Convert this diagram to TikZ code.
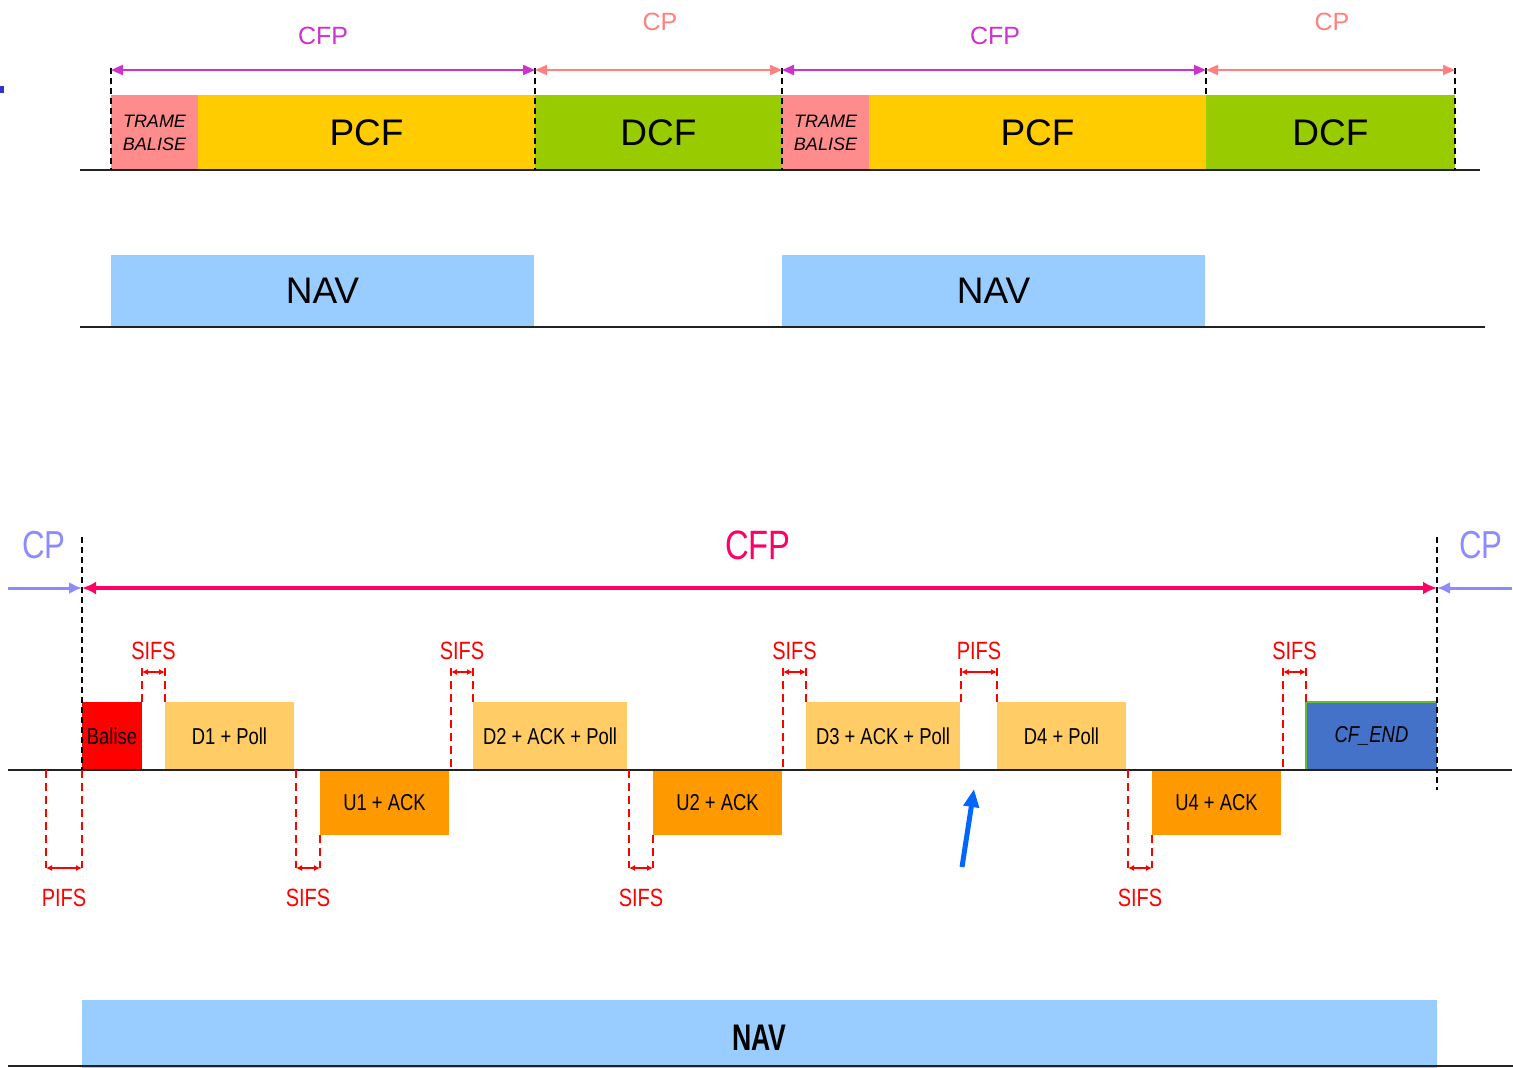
\documentclass[tikz,border=0pt]{standalone}
\usepackage{fontspec}
\setmainfont{Liberation Sans}
\newfontfamily\narrowsf[FakeStretch=0.8]{Liberation Sans}
\newfontfamily\narrowersf[FakeStretch=0.72]{Liberation Sans}
\usetikzlibrary{arrows.meta}

\definecolor{cfpmag}{HTML}{CC33CC}
\definecolor{cpsalmon}{HTML}{FF8080}
\definecolor{trame}{HTML}{FF8C8C}
\definecolor{pcfyellow}{HTML}{FFCC00}
\definecolor{dcfgreen}{HTML}{99CC00}
\definecolor{navblue}{HTML}{99CCFF}
\definecolor{cfpred}{HTML}{FF0066}
\definecolor{cpblue}{HTML}{8C8CFF}
\definecolor{downbox}{HTML}{FFCC66}
\definecolor{upbox}{HTML}{FF9900}
\definecolor{cfend}{HTML}{4472C8}
\definecolor{cfendedge}{HTML}{66BB33}
\definecolor{markblue}{HTML}{3333CC}
\definecolor{pointer}{HTML}{0066FF}
\definecolor{axis}{HTML}{222222}

\begin{document}
\begin{tikzpicture}[x=1pt,y=-1pt,
  slot/.style={inner sep=0pt, outer sep=0pt, anchor=north west, text=black, draw=none},
  bigtxt/.style={font=\fontsize{37}{40}\selectfont},
  frametxt/.style={font=\narrowsf\fontsize{23}{26}\selectfont},
  axisline/.style={draw=axis, line width=2pt},
  divider/.style={draw=black, line width=1.5pt, dash pattern=on 6pt off 4pt},
  gapline/.style={draw=red, line width=1.5pt, dash pattern=on 8pt off 5pt},
  gaparrow/.style={draw=red, line width=1.5pt, {Latex[length=6pt,width=6pt]}-{Latex[length=6pt,width=6pt]}},
  gaptxt/.style={text=red, font=\narrowsf\fontsize{25}{28}\selectfont},
  toparrow/.style={line width=2pt, {Triangle[length=12pt,width=10pt]}-{Triangle[length=12pt,width=10pt]}},
  toptxt/.style={font=\fontsize{25}{28}\selectfont}
]
\useasboundingbox (0,0) rectangle (1513,1068);

% small mark at the left edge
\fill[markblue] (0,86) rectangle (4,93);

% ---------- upper timeline: superframes ----------
\node[slot, fill=trame, minimum width=87pt, minimum height=75pt, align=center,
      font=\fontsize{18}{23}\selectfont\itshape] (tb1) at (111,95) {TRAME\\BALISE};
\node[slot, fill=pcfyellow, minimum width=337pt, minimum height=75pt, bigtxt] (pcf1) at (198,95) {PCF};
\node[slot, fill=dcfgreen, minimum width=247pt, minimum height=75pt, bigtxt] (dcf1) at (535,95) {DCF};
\node[slot, fill=trame, minimum width=87pt, minimum height=75pt, align=center,
      font=\fontsize{18}{23}\selectfont\itshape] (tb2) at (782,95) {TRAME\\BALISE};
\node[slot, fill=pcfyellow, minimum width=337pt, minimum height=75pt, bigtxt] (pcf2) at (869,95) {PCF};
\node[slot, fill=dcfgreen, minimum width=249pt, minimum height=75pt, bigtxt] (dcf2) at (1206,95) {DCF};

\coordinate (ax1a) at (80,170);
\coordinate (ax1b) at (1480,170);
\draw[axisline] (ax1a) -- (ax1b);

% period boundaries
\coordinate (p0t) at (111,68);  \coordinate (p0b) at (111,170);
\coordinate (p1t) at (535,68);  \coordinate (p1b) at (535,170);
\coordinate (p2t) at (782,68);  \coordinate (p2b) at (782,170);
\coordinate (p3t) at (1206,68); \coordinate (p3b) at (1206,95);
\coordinate (p4t) at (1455,68); \coordinate (p4b) at (1455,170);
\foreach \k in {0,...,4} \draw[divider] (p\k t) -- (p\k b);

\coordinate (a0) at (111,70);
\coordinate (a1) at (535,70);
\coordinate (a2) at (782,70);
\coordinate (a3) at (1206,70);
\coordinate (a4) at (1455,70);
\draw[toparrow, draw=cfpmag, fill=cfpmag] (a0) -- (a1);
\draw[toparrow, draw=cpsalmon, fill=cpsalmon] (a1) -- (a2);
\draw[toparrow, draw=cfpmag, fill=cfpmag] (a2) -- (a3);
\draw[toparrow, draw=cpsalmon, fill=cpsalmon] (a3) -- (a4);

\node[toptxt, text=cfpmag] (lcfp1) at (323,36) {CFP};
\node[toptxt, text=cpsalmon] (lcp1) at (660,22) {CP};
\node[toptxt, text=cfpmag] (lcfp2) at (995,36) {CFP};
\node[toptxt, text=cpsalmon] (lcp2) at (1332,22) {CP};

% ---------- upper timeline: NAV ----------
\node[slot, fill=navblue, minimum width=423pt, minimum height=72pt, bigtxt] (nav1) at (111,255) {NAV};
\node[slot, fill=navblue, minimum width=423pt, minimum height=72pt, bigtxt] (nav2) at (782,255) {NAV};
\coordinate (ax2a) at (80,327);
\coordinate (ax2b) at (1485,327);
\draw[axisline] (ax2a) -- (ax2b);

% ---------- lower timeline: one contention-free period ----------
\node[slot, fill=red, minimum width=60pt, minimum height=68pt, frametxt] (bal) at (82,702) {Balise};
\node[slot, fill=downbox, minimum width=129pt, minimum height=68pt, frametxt] (d1) at (165,702) {D1 + Poll};
\node[slot, fill=downbox, minimum width=154pt, minimum height=68pt, frametxt] (d2) at (473,702) {D2 + ACK + Poll};
\node[slot, fill=downbox, minimum width=154pt, minimum height=68pt, frametxt] (d3) at (806,702) {D3 + ACK + Poll};
\node[slot, fill=downbox, minimum width=129pt, minimum height=68pt, frametxt] (d4) at (997,702) {D4 + Poll};
\node[slot, fill=cfend, minimum width=131pt, minimum height=68pt,
      font=\narrowsf\fontsize{23}{26}\selectfont\itshape] (cfe) at (1306,702) {CF\_END};
\draw[cfendedge, line width=1.5pt] (cfe.south west) -- (cfe.north west) -- (cfe.north east);

\node[slot, fill=upbox, minimum width=129pt, minimum height=65pt, frametxt] (u1) at (320,770) {U1 + ACK};
\node[slot, fill=upbox, minimum width=129pt, minimum height=65pt, frametxt] (u2) at (653,770) {U2 + ACK};
\node[slot, fill=upbox, minimum width=129pt, minimum height=65pt, frametxt] (u4) at (1152,770) {U4 + ACK};

\coordinate (ax3a) at (8,770);
\coordinate (ax3b) at (1512,770);
\draw[axisline] (ax3a) -- (ax3b);

% CFP boundaries
\coordinate (cfs) at (82,537);  \coordinate (cfsb) at (82,770);
\coordinate (cfe1) at (1437,537); \coordinate (cfe2) at (1437,790);
\draw[divider] (cfs) -- (cfsb);
\draw[divider] (cfe1) -- (cfe2);

\coordinate (cpl) at (8,588);
\coordinate (cfl) at (82,588);
\coordinate (cfr) at (1437,588);
\coordinate (cpr) at (1512,588);
\draw[line width=4pt, cfpred, {Latex[length=14pt,width=13pt]}-{Latex[length=14pt,width=13pt]}] (cfl) -- (cfr);
\draw[line width=3pt, cpblue, -{Latex[length=13pt,width=12pt]}] (cpl) -- (cfl);
\draw[line width=3pt, cpblue, -{Latex[length=13pt,width=12pt]}] (cpr) -- (cfr);

\node[text=cpblue, font=\narrowsf\fontsize{39}{42}\selectfont] (lcpl) at (44,545) {CP};
\node[text=cpblue, font=\narrowsf\fontsize{39}{42}\selectfont] (lcpr) at (1481,545) {CP};
\node[text=cfpred, font=\narrowsf\fontsize{41}{44}\selectfont] (lcfpb) at (758,545) {CFP};

% inter-frame spaces above the axis
\foreach \a/\b/\la/\lb/\txt [count=\i] in
  {142/165/702/702/SIFS, 451/473/770/702/SIFS, 783/806/770/702/SIFS,
   961/997/702/702/PIFS, 1283/1306/770/702/SIFS} {
  \coordinate (ga\i) at (\a,668); \coordinate (gb\i) at (\b,668);
  \coordinate (ea\i) at (\a,\la); \coordinate (eb\i) at (\b,\lb);
  \coordinate (ha\i) at (\a,672); \coordinate (hb\i) at (\b,672);
  \draw[gapline] (ga\i) -- (ea\i);
  \draw[gapline] (gb\i) -- (eb\i);
  \draw[gaparrow] (ha\i) -- (hb\i);
  \node[gaptxt] (gt\i) at ({(\a+\b)/2},651) {\txt};
}

% inter-frame spaces below the axis
\foreach \a/\b/\lb/\txt [count=\i] in
  {46/82/770/PIFS, 296/320/835/SIFS, 629/653/835/SIFS, 1128/1152/835/SIFS} {
  \coordinate (la\i) at (\a,770); \coordinate (lb\i) at (\b,\lb);
  \coordinate (ka\i) at (\a,868); \coordinate (kb\i) at (\b,868);
  \draw[gapline] (la\i) -- (ka\i);
  \draw[gapline] (lb\i) -- (kb\i);
  \draw[gaparrow] (ka\i) -- (kb\i);
  \node[gaptxt] (bt\i) at ({(\a+\b)/2},898) {\txt};
}

% pointer to the idle PIFS slot
\coordinate (ptail) at (962,867);
\coordinate (phead) at (974,789);
\draw[pointer, line width=5pt, -{Triangle[length=18pt,width=15pt]}] (ptail) -- (phead);

% ---------- lower timeline: NAV ----------
\node[slot, fill=navblue, minimum width=1355pt, minimum height=68pt] (nav3) at (82,1000) {};
\node[font=\narrowersf\bfseries\fontsize{37}{40}\selectfont, inner sep=0pt] (navtxt)
  at ([yshift=-4pt]nav3.center) {NAV};
\coordinate (ax4a) at (8,1066);
\coordinate (ax4b) at (1513,1066);
\draw[axisline] (ax4a) -- (ax4b);
\end{tikzpicture}
\end{document}
